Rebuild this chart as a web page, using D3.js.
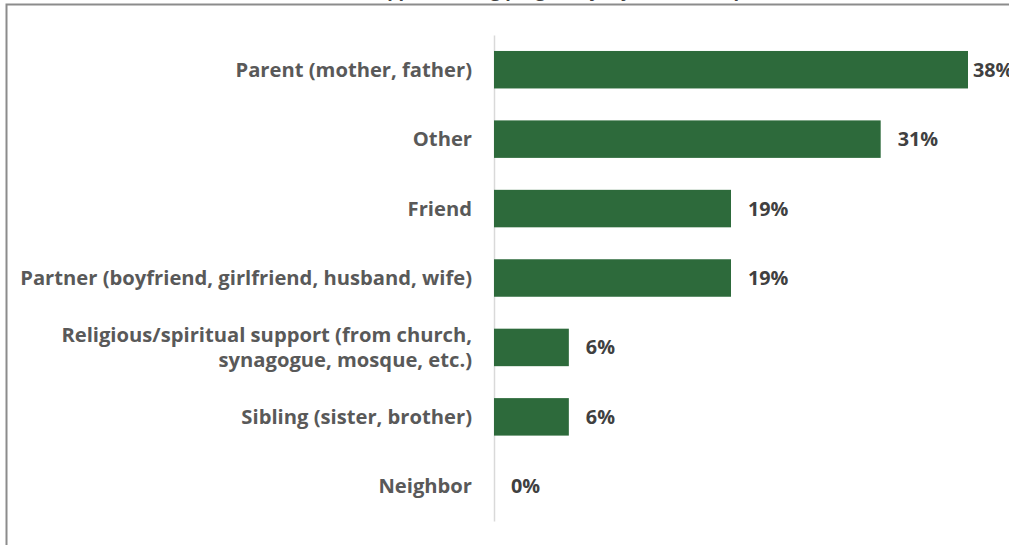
<!DOCTYPE html>
<html>
<head>
<meta charset="utf-8">
<script src="https://cdn.jsdelivr.net/npm/d3@7"></script>
<style>
  html, body { margin: 0; padding: 0; background: #ffffff; overflow: hidden; }
  svg { display: block; }
</style>
</head>
<body>
<div id="chart"></div>
<script>
// Who provided support, share of respondents
const categories = [
  "Parent (mother, father)",
  "Other",
  "Friend",
  "Partner (boyfriend, girlfriend, husband, wife)",
  "Religious/spiritual support (from church,|synagogue, mosque, etc.)",
  "Sibling (sister, brother)",
  "Neighbor"
];
const values = [38, 31, 19, 19, 6, 6, 0];
const valueLabels = ["38%", "31%", "19%", "19%", "6%", "6%", "0%"];
const titleText = "Sources of support during pregnancy, by relationship";

const width = 1009, height = 545;
const margin = { top: 35, left: 494, right: 41, bottom: 24 };

const svg = d3.select("#chart").append("svg")
  .attr("width", width)
  .attr("height", height);

const font = "'Open Sans', 'Liberation Sans', sans-serif";

// outer chart frame (runs past the right and bottom edges)
svg.append("rect")
  .attr("x", 6.5).attr("y", 4.5)
  .attr("width", width + 20).attr("height", height + 20)
  .attr("fill", "none")
  .attr("stroke", "#8c8c8c")
  .attr("stroke-width", 2);

// chart title sits above the frame
svg.append("text")
  .attr("x", 507).attr("y", -3)
  .attr("text-anchor", "middle")
  .attr("font-family", font)
  .attr("font-weight", 700)
  .attr("font-size", 18)
  .attr("fill", "#404040")
  .text(titleText);

const x = d3.scaleLinear()
  .domain([0, 38])
  .range([margin.left, 968]);

const y = d3.scaleBand()
  .domain(categories)
  .range([margin.top, height - margin.bottom])
  .paddingInner(0.46)
  .paddingOuter(0.23);

// category axis
const yAxis = d3.axisLeft(y).tickSize(0).tickFormat("");
const axisG = svg.append("g")
  .attr("transform", `translate(${margin.left},0)`)
  .call(yAxis);
axisG.select(".domain").attr("stroke", "#d9d9d9").attr("stroke-width", 1.5);

// category labels, wrapped on "|" into separate text lines
const labelG = svg.append("g");
categories.forEach(d => {
  const lines = d.split("|");
  const lh = 25;
  const cy = y(d) + y.bandwidth() / 2;
  lines.forEach((ln, i) => {
    labelG.append("text")
      .attr("x", margin.left - 22)
      .attr("y", cy + (i - (lines.length - 1) / 2) * lh)
      .attr("dy", "0.35em")
      .attr("text-anchor", "end")
      .attr("font-family", font)
      .attr("font-weight", 700)
      .attr("font-size", 20.2)
      .attr("fill", "#595959")
      .text(ln);
  });
});

// bars
svg.append("g")
  .selectAll("rect")
  .data(categories)
  .join("rect")
  .attr("x", x(0))
  .attr("y", d => y(d))
  .attr("width", (d, i) => x(values[i]) - x(0))
  .attr("height", y.bandwidth())
  .attr("fill", "#2d6a3b");

// value labels
svg.append("g")
  .selectAll("text")
  .data(categories)
  .join("text")
  .attr("x", (d, i) => Math.min(x(values[i]) + 17, 973))
  .attr("y", d => y(d) + y.bandwidth() / 2)
  .attr("dy", "0.35em")
  .attr("font-family", font)
  .attr("font-weight", 700)
  .attr("font-size", 19.8)
  .attr("fill", "#404040")
  .text((d, i) => valueLabels[i]);
</script>
</body>
</html>
